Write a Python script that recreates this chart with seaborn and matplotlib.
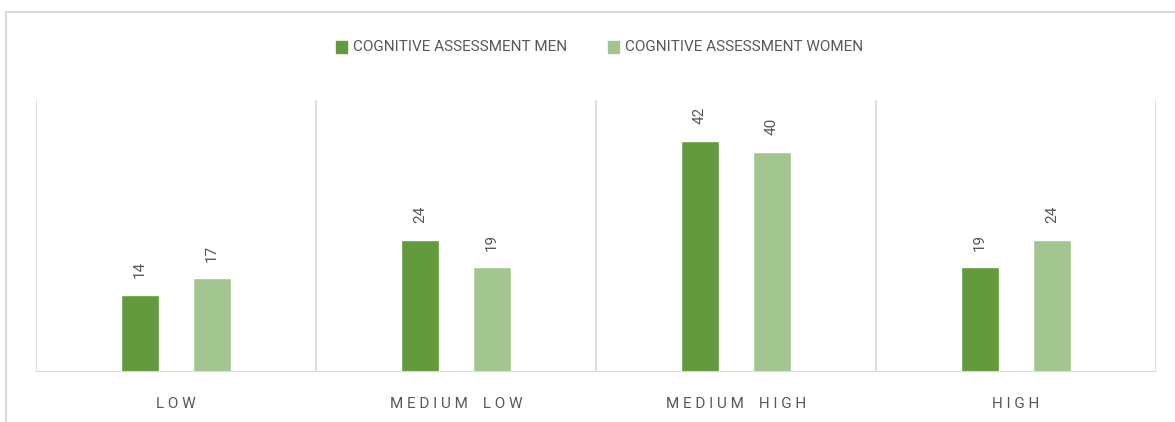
import pandas as pd
import seaborn as sns
import matplotlib.pyplot as plt
from matplotlib.patches import Rectangle

categories = ['LOW', 'MEDIUM  LOW', 'MEDIUM  HIGH', 'HIGH']
series = ['COGNITIVE ASSESSMENT MEN', 'COGNITIVE ASSESSMENT WOMEN']
men = [14, 24, 42, 19]
women = [17, 19, 40, 24]

df = pd.DataFrame({
    'cat': categories * 2,
    'serie': [series[0]] * 4 + [series[1]] * 4,
    'value': men + women,
})

sns.set_style('white')
plt.rcParams['font.family'] = ['Roboto', 'DejaVu Sans']

txt = '#595959'
grid = '#d9d9d9'
colors = ['#629a3d', '#a3c58f']

fig = plt.figure(figsize=(11.75, 4.22), dpi=100)
# outer chart border (right/bottom cut off like the reference)
fig.patches.append(Rectangle((6 / 1175, -0.1), 1.2, 1.1 - 12 / 422, transform=fig.transFigure,
                             fill=False, edgecolor=grid, lw=1.5))
ax = fig.add_axes([36 / 1175, 50 / 422, 1120 / 1175, 272 / 422])

sns.barplot(data=df, x='cat', y='value', hue='serie', palette=colors,
            width=0.514, gap=0.47, ax=ax, legend=False, saturation=1)

ax.set_xlim(-0.5, 3.5)
ax.set_ylim(0, 49.4)
for b in [-0.5, 0.5, 1.5, 2.5, 3.5]:
    ax.axvline(b, color=grid, lw=1.2, zorder=0)
for s in ax.spines.values():
    s.set_visible(False)
ax.axhline(0, color=grid, lw=1.5, zorder=3)

# letter-spaced category labels
def spaced(label):
    return '    '.join(' '.join(w) for w in label.split())

ax.set_yticks([])
ax.set_xlabel('')
ax.set_ylabel('')
ax.set_xticks(range(4))
ax.set_xticklabels([spaced(c) for c in categories], color=txt, fontsize=11)
ax.tick_params(axis='x', length=0, pad=18)

for cont in ax.containers:
    ax.bar_label(cont, rotation=90, padding=12, color=txt, fontsize=11)

# legend
for i, (name, c) in enumerate(zip(series, colors)):
    x0 = [336, 608][i] / 1175
    fig.patches.append(Rectangle((x0, 1 - 53 / 422), 11 / 1175, 12 / 422,
                                 transform=fig.transFigure, color=c))
    fig.text(x0 + 17 / 1175, 1 - 47 / 422, name, color=txt, fontsize=11, va='center')

fig.savefig('out.png', dpi=100)
